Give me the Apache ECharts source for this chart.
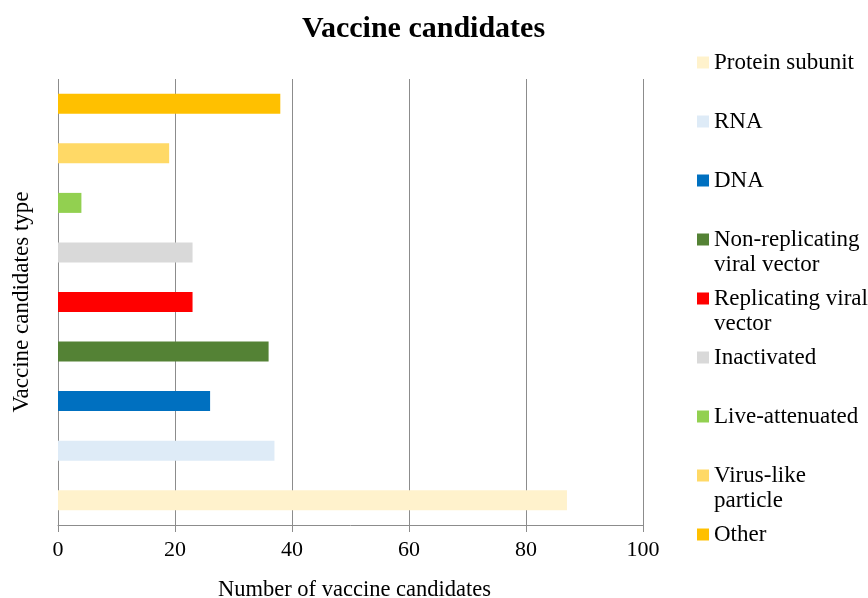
<!DOCTYPE html>
<html>
<head>
<meta charset="utf-8">
<script src="https://cdn.jsdelivr.net/npm/echarts@6/dist/echarts.min.js"></script>
<style>html,body{margin:0;padding:0;background:#fff;}#c{width:868px;height:598px;}</style>
</head>
<body>
<div id="c"></div>
<script>
// Data (bottom to top on the category axis)
var categories = ['Protein subunit', 'RNA', 'DNA', 'Non-replicating viral vector', 'Replicating viral vector', 'Inactivated', 'Live-attenuated', 'Virus-like particle', 'Other'];
var values = [87, 37, 26, 36, 23, 23, 4, 19, 38];
var colors = ['#FFF2CC', '#DEEBF7', '#0070C0', '#548235', '#FF0000', '#D9D9D9', '#92D050', '#FFD966', '#FFC000'];
var legendLabels = ['Protein subunit', 'RNA', 'DNA', 'Non-replicating\nviral vector', 'Replicating viral\nvector', 'Inactivated', 'Live-attenuated', 'Virus-like\nparticle', 'Other'];
var xTicks = [0, 20, 40, 60, 80, 100];

var FONT = '"Liberation Serif", "Times New Roman", serif';
var LH = 25;

var series = categories.map(function (name, i) {
  var d = categories.map(function (c, j) { return j === i ? values[i] : '-'; });
  return {
    name: name,
    type: 'bar',
    stack: 'all',
    barWidth: 20,
    data: d,
    itemStyle: { color: colors[i] },
    emphasis: { disabled: true }
  };
});

var legends = categories.map(function (name, i) {
  var label = legendLabels[i];
  var multi = label.indexOf('\n') >= 0;
  var center = 62.5 + i * 59;
  var text = multi ? '\n' + label : label;
  var nLines = multi ? 3 : 1;
  return {
    data: [name],
    left: 697,
    top: center - (nLines * LH) / 2,
    padding: 0,
    itemWidth: 12,
    itemHeight: 12,
    icon: 'rect',
    selectedMode: false,
    formatter: function () { return text; },
    textStyle: { fontFamily: FONT, fontSize: 23, color: '#000', lineHeight: LH }
  };
});

var chart = echarts.init(document.getElementById('c'), null, { renderer: 'canvas' });
chart.setOption({
  animation: false,
  backgroundColor: '#fff',
  title: {
    text: 'Vaccine candidates',
    left: 302,
    top: 14,
    padding: 0,
    textStyle: { fontFamily: FONT, fontSize: 30, fontWeight: 'bold', color: '#000' }
  },
  legend: legends,
  grid: { left: 58, right: 225, top: 79, bottom: 73, containLabel: false, outerBoundsMode: 'none' },
  xAxis: {
    type: 'value',
    min: 0,
    max: 100,
    interval: 20,
    name: 'Number of vaccine candidates',
    nameLocation: 'middle',
    nameGap: 54,
    nameTextStyle: { fontFamily: FONT, fontSize: 22.5, color: '#000', padding: [0, 0, 0, 8] },
    axisLine: { show: true, lineStyle: { color: '#8c8c8c', width: 1 } },
    axisTick: { show: true, length: 7, lineStyle: { color: '#8c8c8c' } },
    axisLabel: {
      fontFamily: FONT, fontSize: 22, color: '#000', margin: 14,
      formatter: function (v) { return xTicks.indexOf(v) >= 0 ? String(v) : ''; }
    },
    splitLine: { show: true, lineStyle: { color: '#8c8c8c', width: 1 } }
  },
  yAxis: {
    type: 'category',
    data: categories,
    name: 'Vaccine candidates type',
    nameLocation: 'middle',
    nameGap: 25,
    nameTextStyle: { fontFamily: FONT, fontSize: 23, color: '#000' },
    axisLine: { show: false },
    axisTick: { show: false },
    axisLabel: { show: false },
    splitLine: { show: false }
  },
  series: series
});
</script>
</body>
</html>
